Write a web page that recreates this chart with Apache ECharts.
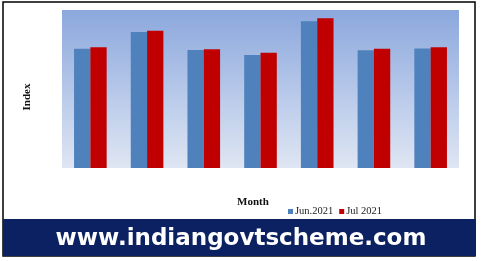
<!DOCTYPE html>
<html>
<head>
<meta charset="utf-8">
<script src="https://cdn.jsdelivr.net/npm/echarts@6/dist/echarts.min.js"></script>
<style>
html,body{margin:0;padding:0;background:#fff;}
#c{width:481px;height:261px;}
</style>
</head>
<body>
<div id="c"></div>
<script>
var categories = ['G1', 'G2', 'G3', 'G4', 'G5', 'G6', 'G7'];
var seriesNames = ['Jun.2021', 'Jul 2021'];
var jun2021 = [982, 1118, 970, 929, 1208, 968, 984];
var jul2021 = [993, 1129, 978, 949, 1233, 982, 993];

var chart = echarts.init(document.getElementById('c'), null, {renderer: 'canvas'});
chart.setOption({
  animation: false,
  backgroundColor: '#ffffff',
  grid: {
    left: 62, right: 22, top: 10, bottom: 93,
    show: true,
    borderWidth: 0,
    backgroundColor: new echarts.graphic.LinearGradient(0, 0, 0, 1, [
      {offset: 0, color: '#8ba7dc'},
      {offset: 0.5, color: '#b5c7e9'},
      {offset: 1, color: '#dfe6f3'}
    ])
  },
  legend: {
    data: seriesNames,
    left: 283, top: 201,
    icon: 'rect', itemWidth: 5, itemHeight: 5, itemGap: 6,
    textStyle: {fontFamily: 'Liberation Serif', fontSize: 10.5, color: '#222', padding: [0, 0, 0, -3]}
  },
  xAxis: {
    type: 'category', data: categories,
    axisLine: {show: false}, axisTick: {show: false}, axisLabel: {show: false},
    splitLine: {show: false}
  },
  yAxis: {
    type: 'value', min: 0, max: 1300,
    axisLine: {show: false}, axisTick: {show: false}, axisLabel: {show: false},
    splitLine: {show: false}
  },
  series: [
    {name: seriesNames[0], type: 'bar', data: jun2021, barGap: '0%', barCategoryGap: '42.5%',
     itemStyle: {color: '#4f81bd'}},
    {name: seriesNames[1], type: 'bar', data: jul2021, barGap: '0%', barCategoryGap: '42.5%',
     itemStyle: {color: '#c00000'}}
  ],
  graphic: [
    {type: 'rect', shape: {x: 3, y: 2, width: 472, height: 254}, style: {fill: 'none', stroke: '#000', lineWidth: 1.5}, z: 10},
    {type: 'rect', shape: {x: 3, y: 219, width: 473, height: 37}, style: {fill: '#0b2161'}, z: 11},
    {type: 'text', x: 241, y: 239.5, style: {text: 'www.indiangovtscheme.com', fill: '#ffffff', font: 'bold 23px "DejaVu Sans"', textAlign: 'center', textVerticalAlign: 'middle'}, z: 12},
    {type: 'text', x: 27, y: 97, rotation: Math.PI / 2, style: {text: 'Index', fill: '#111', font: 'bold 11px "Liberation Serif"', textAlign: 'center', textVerticalAlign: 'middle'}, z: 12},
    {type: 'text', x: 253, y: 202, style: {text: 'Month', fill: '#111', font: 'bold 11px "Liberation Serif"', textAlign: 'center', textVerticalAlign: 'middle'}, z: 12}
  ]
});
</script>
</body>
</html>
